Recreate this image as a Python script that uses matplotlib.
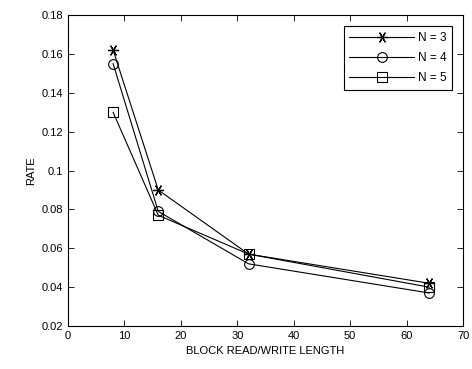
import numpy as np
import matplotlib
matplotlib.use("Agg")
import matplotlib.pyplot as plt

plt.rcParams['font.family'] = ['Liberation Sans', 'DejaVu Sans']

block_len = [8, 16, 32, 64]
rate_n3 = [0.162, 0.090, 0.057, 0.042]
rate_n4 = [0.155, 0.079, 0.052, 0.037]
rate_n5 = [0.130, 0.077, 0.057, 0.040]

fig = plt.figure(figsize=(4.72, 3.69), dpi=100)
ax = fig.add_axes([0.144, 0.1165, 0.837, 0.8425])

# asterisk marker like MATLAB's '*'
ax.plot(block_len, rate_n3, color='black', lw=0.8, marker=(6, 2, 90), ms=8,
        mec='black', mew=0.9, label='N = 3')
ax.plot(block_len, rate_n4, color='black', lw=0.8, marker='o', ms=7,
        mfc='none', mec='black', mew=0.8, label='N = 4')
ax.plot(block_len, rate_n5, color='black', lw=0.8, marker='s', ms=7,
        mfc='none', mec='black', mew=0.8, label='N = 5')

ax.set_xlim(0, 70)
ax.set_ylim(0.02, 0.18)
ax.set_xticks(np.arange(0, 71, 10))
ax.set_yticks([0.02, 0.04, 0.06, 0.08, 0.1, 0.12, 0.14, 0.16, 0.18])
ax.set_yticklabels(['0.02', '0.04', '0.06', '0.08', '0.1', '0.12', '0.14', '0.16', '0.18'])
ax.tick_params(direction='in', top=True, right=True, labelsize=8, length=4, width=0.6)
for s in ax.spines.values():
    s.set_linewidth(0.8)

ax.set_xlabel('BLOCK READ/WRITE LENGTH', fontsize=8)
ax.set_ylabel('RATE', fontsize=8)

leg = ax.legend(loc='upper right', fontsize=8.5, fancybox=False, edgecolor='black',
                framealpha=1, handlelength=5.5, borderpad=0.5, labelspacing=0.7,
                borderaxespad=0.9, handletextpad=0.3)
leg.get_frame().set_linewidth(0.8)

fig.savefig('out.png', dpi=100)
